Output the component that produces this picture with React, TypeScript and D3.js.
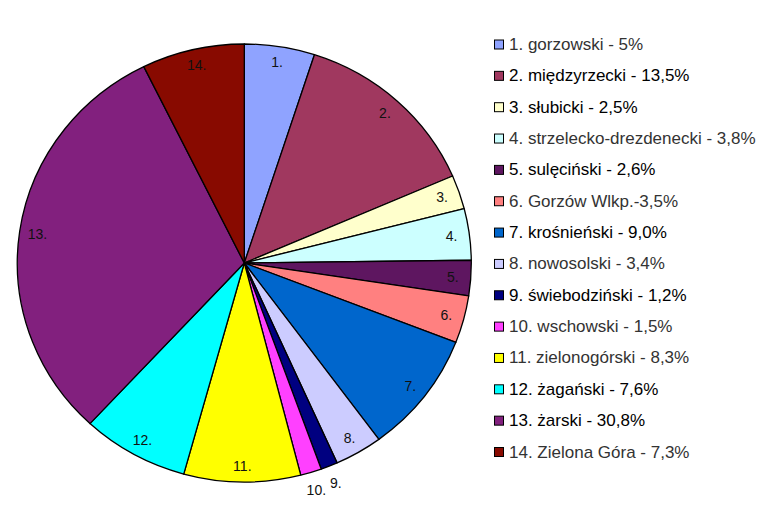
import React from "react";
import * as d3 from "d3";

const labels = ["1.", "2.", "3.", "4.", "5.", "6.", "7.", "8.", "9.", "10.", "11.", "12.", "13.", "14."];
const legendTexts = [
  "1. gorzowski - 5%",
  "2. międzyrzecki - 13,5%",
  "3. słubicki - 2,5%",
  "4. strzelecko-drezdenecki - 3,8%",
  "5. sulęciński - 2,6%",
  "6. Gorzów Wlkp.-3,5%",
  "7. krośnieński - 9,0%",
  "8. nowosolski - 3,4%",
  "9. świebodziński - 1,2%",
  "10. wschowski - 1,5%",
  "11. zielonogórski - 8,3%",
  "12. żagański - 7,6%",
  "13. żarski - 30,8%",
  "14. Zielona Góra - 7,3%",
];
const values = [5, 13.5, 2.5, 3.8, 2.6, 3.5, 9.0, 3.4, 1.2, 1.5, 8.3, 7.6, 30.8, 7.3];
const colors = [
  "#8FA3FF", "#A0385F", "#FFFFCC", "#CCFFFF", "#5E1660", "#FF8080", "#0066CC",
  "#CCCCFF", "#000080", "#FF40FF", "#FFFF00", "#00FFFF", "#82207E", "#880A00",
];
const darkLegend = [false, true, true, false, true, false, true, false, true, false, false, true, true, false];

export default function App() {
  const W = 778, H = 509;
  const cx = 244.3, cy = 263, rx = 227, ry = 219;
  const sx = rx / ry;
  const pie = d3.pie<number>().sort(null).value((d) => d);
  const arcs = pie(values);
  const arc = d3.arc<d3.PieArcDatum<number>>().innerRadius(0).outerRadius(ry);

  const legendY = d3.scaleLinear().domain([0, values.length - 1]).range([44.5, 452]);

  return (
    <svg width={W} height={H} style={{ position: "absolute", left: 0, top: 0, background: "#fff" }}
      fontFamily="'Liberation Sans', Arial, sans-serif">
      <g transform={`translate(${cx},${cy}) scale(${sx},1)`}>
        {arcs.map((a, i) => (
          <path key={i} d={arc(a) || ""} fill={colors[i]} stroke="#000" strokeWidth={1.3}
            strokeLinejoin="round" vectorEffect="non-scaling-stroke" />
        ))}
      </g>
      {arcs.map((a, i) => {
        const mid = (a.startAngle + a.endAngle) / 2;
        const outside = values[i] < 2;
        const dx = outside ? 18 : -18;
        const dy = outside ? 18 : -16;
        const x = cx + (rx + dx) * Math.sin(mid);
        const y = cy - (ry + dy) * Math.cos(mid);
        return (
          <text key={i} x={x} y={y} fontSize={14} textAnchor="middle" dominantBaseline="central" fill="#111">
            {labels[i]}
          </text>
        );
      })}
      {legendTexts.map((t, i) => {
        const y = legendY(i);
        return (
          <g key={i}>
            <rect x={494.5} y={y - 4.5} width={9} height={9} fill={colors[i]} stroke="#000" strokeWidth={1} />
            <text x={509} y={y} fontSize={17} dominantBaseline="central" fill={darkLegend[i] ? "#000" : "#333"}>
              {t}
            </text>
          </g>
        );
      })}
    </svg>
  );
}
